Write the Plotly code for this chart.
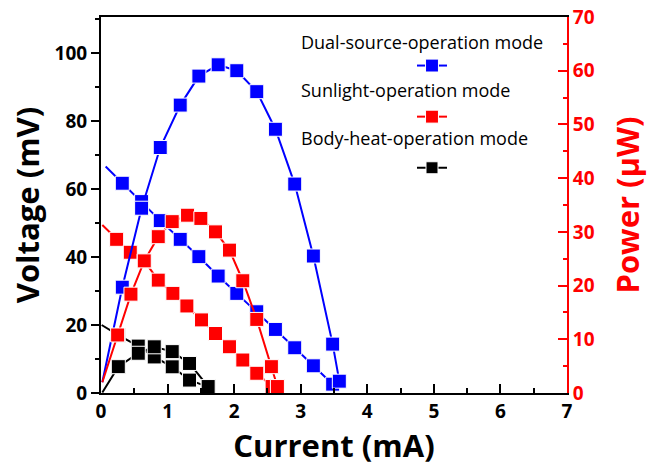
import plotly.graph_objects as go

# ---------------- data ----------------
labels = ["Dual-source-operation mode", "Sunlight-operation mode", "Body-heat-operation mode"]
colors = ["#0000FF", "#FF0000", "#000000"]

# Dual-source (blue)
dual_I_V = [0.07, 0.32, 0.61, 0.89, 1.19, 1.47, 1.76, 2.04, 2.34, 2.62, 2.91, 3.19, 3.48]
dual_V = [66.6, 61.7, 56.3, 50.7, 45.2, 40.1, 34.4, 29.3, 23.9, 18.7, 13.3, 8.0, 2.6]
dual_I_P = [0.02, 0.32, 0.61, 0.89, 1.19, 1.47, 1.76, 2.04, 2.34, 2.62, 2.91, 3.19, 3.48, 3.58]
dual_P = [2.0, 19.7, 34.4, 45.7, 53.6, 59.0, 61.1, 60.0, 56.1, 49.1, 38.9, 25.5, 9.1, 2.2]

# Sunlight (red)
sun_I_V = [0.02, 0.235, 0.44, 0.65, 0.86, 1.08, 1.29, 1.51, 1.72, 1.93, 2.13, 2.34, 2.57]
sun_V = [49.4, 45.2, 41.4, 38.8, 33.2, 29.3, 25.6, 21.5, 17.5, 13.6, 9.7, 5.8, 1.9]
sun_I_P = [0.02, 0.25, 0.45, 0.65, 0.86, 1.07, 1.30, 1.50, 1.72, 1.93, 2.13, 2.34, 2.56, 2.65]
sun_P = [2.0, 10.8, 18.4, 24.6, 29.1, 31.9, 33.1, 32.5, 30.0, 26.6, 20.9, 13.7, 4.9, 1.2]

# Body-heat (black)
body_I_V = [0.01, 0.26, 0.56, 0.80, 1.07, 1.33, 1.61]
body_V = [20.0, 17.0, 13.8, 10.6, 7.7, 3.8, 1.8]
body_I_P = [0.02, 0.26, 0.56, 0.80, 1.07, 1.33, 1.61]
body_P = [0.1, 4.9, 7.4, 8.6, 7.7, 5.5, 1.2]

x_ticks = [0, 1, 2, 3, 4, 5, 6, 7]

FONT = "Open Sans"
MS = 14

series = [
    (dual_I_V, dual_V, dual_I_P, dual_P),
    (sun_I_V, sun_V, sun_I_P, sun_P),
    (body_I_V, body_V, body_I_P, body_P),
]

fig = go.Figure()
for k, (iv, v, ip, p) in enumerate(series):
    c = colors[k]
    sizes_v = [0] + [MS] * (len(iv) - 1)
    sizes_p = [0] + [MS] * (len(ip) - 1)
    fig.add_trace(go.Scatter(
        x=iv, y=v, mode="lines+markers", name="",
        line=dict(color=c, width=2),
        marker=dict(symbol="square", size=sizes_v, color=c, opacity=1),
        legendgroup=labels[k], legendrank=k + 1, showlegend=True,
        hovertemplate=labels[k] + "<br>%{x} mA, %{y} mV<extra></extra>",
        yaxis="y", cliponaxis=True,
    ))
    fig.add_trace(go.Scatter(
        x=ip, y=p, mode="lines+markers", name="",
        line=dict(color=c, width=2),
        marker=dict(symbol="square", size=sizes_p, color=c, opacity=1),
        legendgroup=labels[k], showlegend=False,
        hovertemplate=labels[k] + "<br>%{x} mA, %{y} μW<extra></extra>",
        yaxis="y2", cliponaxis=True,
    ))

tickfont_b = dict(family=FONT, size=19, color="black", weight="bold")
title_b = dict(family=FONT, size=31, color="black", weight="bold")

fig.update_layout(
    width=651, height=466,
    margin=dict(l=101, r=84, t=17, b=73, autoexpand=False),
    paper_bgcolor="white", plot_bgcolor="white",
    font=dict(family=FONT, color="black"),
    showlegend=True,
    legend=dict(
        x=(412 - 101) / 466, xanchor="left",
        y=(393 - 48) / 376, yanchor="top",
        bgcolor="rgba(0,0,0,0)", borderwidth=0,
        font=dict(family=FONT, size=17),
        tracegroupgap=26, traceorder="grouped",
    ),
    xaxis=dict(
        range=[0, 7], tickvals=x_ticks, ticktext=[str(t) for t in x_ticks],
        ticks="inside", ticklen=9, tickwidth=2, tickcolor="black",
        minor=dict(dtick=0.5, tick0=0, ticks="inside", ticklen=5, tickwidth=2, tickcolor="black"),
        showline=True, linewidth=2, linecolor="black", mirror=True,
        showgrid=False, zeroline=False, automargin=False,
        tickfont=tickfont_b,
        title=dict(text="Current (mA)", font=title_b, standoff=8),
    ),
    yaxis=dict(
        range=[0, 110.6], tick0=0, dtick=20,
        ticks="outside", ticklen=8, tickwidth=2, tickcolor="black",
        minor=dict(dtick=10, tick0=0, ticks="outside", ticklen=4, tickwidth=2, tickcolor="black"),
        showline=True, linewidth=2, linecolor="black",
        showgrid=False, zeroline=False, automargin=False,
        tickfont=tickfont_b,
        title=dict(text="Voltage (mV)", font=title_b, standoff=6),
    ),
    yaxis3=dict(
        range=[0, 110.6], tick0=0, dtick=20, overlaying="y", side="left",
        ticks="inside", ticklen=9, tickwidth=2, tickcolor="black",
        minor=dict(dtick=10, tick0=0, ticks="inside", ticklen=9, tickwidth=2, tickcolor="black"),
        showticklabels=False, showline=False, showgrid=False, zeroline=False, automargin=False,
    ),
    yaxis2=dict(
        range=[0, 70], tick0=0, dtick=10, overlaying="y", side="right",
        ticks="inside", ticklen=9, tickwidth=2, tickcolor="#FF0000",
        minor=dict(dtick=5, tick0=0, ticks="inside", ticklen=4, tickwidth=2, tickcolor="#FF0000"),
        showline=True, linewidth=2, linecolor="#FF0000",
        showgrid=False, zeroline=False, automargin=False,
        tickfont=dict(family=FONT, size=19, color="#FF0000", weight="bold"),
        title=dict(text="Power (μW)", font=dict(family=FONT, size=31, color="#FF0000", weight="bold"), standoff=24),
    ),
)

ann_y = [42.0, 90.0, 138.0]
for k, lab in enumerate(labels):
    fig.add_annotation(
        text=lab, xref="paper", yref="paper",
        x=(299 - 101) / 466, y=(393 - ann_y[k]) / 376,
        xanchor="left", yanchor="middle", showarrow=False,
        font=dict(family=FONT, size=18, color="black", weight=500),
    )

fig.write_html("out.html")
